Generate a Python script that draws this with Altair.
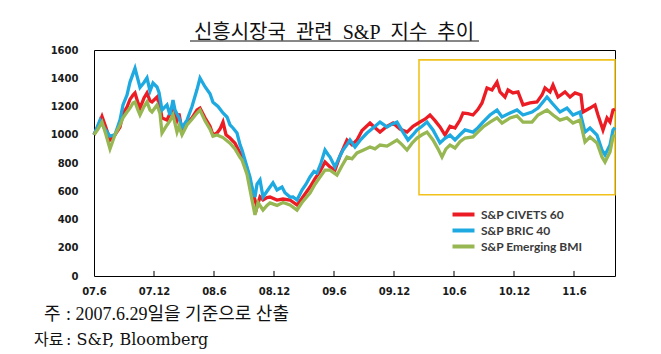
import altair as alt
import pandas as pd

# ---------------- data ----------------
series_names = ["S&P CIVETS 60", "S&P BRIC 40", "S&P Emerging BMI"]
series_colors = ["#EC1C24", "#1EA9E1", "#96B752"]

tick_months = [0, 6, 12, 18, 24, 30, 36, 42, 48]
tick_labels = ["07.6", "07.12", "08.6", "08.12", "09.6", "09.12", "10.6", "10.12", "11.6"]
inner_ticks = [6, 12, 18, 24, 30, 36, 42, 48]
x_max = 52.1  # months after 2007.6.29

civets = [(0, 1000), (0.4, 1060), (0.8, 1130), (1.2, 1050), (1.6, 963), (2.1, 1000), (2.6, 1055), (2.9, 1150),
          (3.3, 1196), (3.6, 1250), (3.9, 1281), (4.1, 1296), (4.4, 1225), (4.6, 1189), (5.0, 1260), (5.3, 1296),
          (5.6, 1240), (5.8, 1232), (6.3, 1267), (6.6, 1200), (6.8, 1119), (7.3, 1104), (7.6, 1150), (7.9, 1189),
          (8.3, 1104), (8.5, 1150), (8.8, 1034), (9.3, 1083), (9.8, 1120), (10.3, 1175), (10.6, 1189), (11.1, 1120),
          (11.6, 1060), (11.9, 998), (12.3, 1012), (12.6, 1040), (12.9, 1090), (13.2, 1000), (13.6, 977), (14.1, 940),
          (14.6, 871), (15.3, 760), (15.8, 609), (16.3, 488), (16.6, 560), (16.9, 538), (17.3, 555), (17.6, 559),
          (18.3, 538), (18.9, 545), (19.6, 538), (20.3, 503), (20.8, 550), (21.6, 630), (22.1, 690), (22.6, 740),
          (23.1, 807), (23.6, 772), (24.1, 750), (24.6, 850), (25.3, 963), (25.8, 930), (26.3, 963), (26.8, 1030),
          (27.6, 1083), (28.1, 1050), (28.6, 1019), (29.3, 1060), (29.9, 1083), (30.6, 1040), (31.3, 1019),
          (31.9, 1060), (32.6, 1090), (33.1, 1110), (33.6, 1140), (34.1, 1100), (34.6, 1055), (35.1, 998),
          (35.6, 1060), (36.1, 1048), (36.6, 1104), (36.9, 1154), (37.4, 1150), (37.9, 1140), (38.4, 1180),
          (38.8, 1225), (39.3, 1331), (39.8, 1317), (40.3, 1373), (40.6, 1303), (41.1, 1267), (41.4, 1317),
          (41.9, 1296), (42.4, 1303), (42.9, 1211), (43.6, 1225), (44.3, 1232), (44.8, 1281), (45.1, 1331),
          (45.6, 1303), (45.9, 1352), (46.4, 1267), (47.1, 1303), (47.6, 1267), (48.1, 1296), (48.7, 1281),
          (48.9, 1161), (49.6, 1189), (50.1, 1211), (50.4, 1140), (50.9, 1034), (51.3, 1119), (51.6, 1090),
          (51.9, 1175), (52.1, 1180)]

bric = [(0, 1000), (0.6, 1104), (1.0, 1050), (1.6, 990), (2.1, 1000), (2.6, 1104), (2.9, 1211), (3.3, 1281),
        (3.6, 1373), (4.1, 1470), (4.6, 1335), (5.0, 1370), (5.3, 1402), (5.6, 1310), (5.9, 1366), (6.3, 1338),
        (6.5, 1300), (6.8, 1175), (7.3, 1211), (7.6, 1140), (7.9, 1246), (8.1, 1175), (8.5, 1120), (8.8, 1050),
        (9.3, 1104), (9.8, 1200), (10.3, 1320), (10.6, 1402), (11.1, 1340), (11.6, 1290), (11.9, 1230),
        (12.4, 1200), (12.9, 1154), (13.3, 1126), (13.6, 1070), (13.9, 1048), (14.3, 1012), (14.6, 930),
        (14.8, 892), (15.3, 772), (15.6, 700), (15.8, 630), (16.1, 559), (16.3, 650), (16.6, 680), (16.9, 559),
        (17.3, 600), (17.6, 630), (17.9, 660), (18.3, 609), (18.8, 630), (19.1, 590), (19.6, 559), (19.9, 560),
        (20.3, 538), (20.8, 609), (21.2, 650), (21.6, 701), (22.0, 740), (22.3, 729), (22.7, 800), (23.1, 892),
        (23.4, 860), (23.6, 842), (24.1, 772), (24.6, 850), (24.9, 892), (25.3, 930), (25.6, 963), (26.1, 913),
        (26.6, 960), (27.3, 1012), (27.9, 1048), (28.6, 1090), (29.0, 1070), (29.3, 1055), (29.8, 1075),
        (30.3, 1090), (30.9, 1019), (31.4, 963), (31.9, 1000), (32.3, 1034), (32.8, 1060), (33.3, 1090),
        (33.9, 1034), (34.6, 942), (35.1, 975), (35.6, 998), (36.1, 963), (36.6, 1000), (37.1, 1034),
        (37.9, 1019), (38.4, 1050), (38.9, 1090), (39.6, 1140), (40.3, 1175), (40.8, 1126), (41.6, 1154),
        (42.3, 1175), (42.9, 1140), (43.8, 1161), (44.4, 1189), (44.9, 1232), (45.3, 1267), (45.8, 1225),
        (46.6, 1161), (47.3, 1189), (47.9, 1140), (48.6, 1161), (49.1, 1019), (49.6, 1048), (50.3, 998),
        (50.8, 892), (51.1, 857), (51.6, 927), (51.9, 1034), (52.1, 1050)]

emerging = [(0, 1000), (0.4, 1040), (0.8, 1090), (1.2, 1000), (1.6, 900), (2.1, 1000), (2.6, 1069), (2.9, 1120),
            (3.3, 1161), (3.6, 1189), (3.9, 1225), (4.1, 1232), (4.4, 1175), (4.6, 1140), (5.0, 1200), (5.3, 1232),
            (5.6, 1175), (5.8, 1161), (6.3, 1211), (6.6, 1150), (6.8, 1012), (7.3, 1069), (7.6, 1100), (7.9, 1140),
            (8.3, 1019), (8.5, 1060), (8.8, 1000), (9.3, 1069), (9.8, 1110), (10.3, 1154), (10.6, 1175),
            (11.1, 1100), (11.6, 1040), (11.9, 990), (12.3, 998), (12.9, 980), (13.6, 940), (14.1, 900),
            (14.6, 840), (14.8, 821), (15.3, 720), (15.8, 538), (16.1, 432), (16.4, 520), (16.9, 467), (17.3, 500),
            (17.6, 517), (18.3, 500), (18.9, 520), (19.6, 503), (20.3, 467), (20.8, 520), (21.6, 588), (22.1, 650),
            (22.6, 700), (23.1, 750), (23.6, 750), (24.3, 715), (24.8, 780), (25.3, 842), (25.8, 830), (26.3, 871),
            (26.9, 890), (27.6, 913), (28.1, 900), (28.6, 927), (29.3, 920), (30.3, 963), (30.8, 930), (31.3, 892),
            (31.8, 940), (32.3, 977), (32.8, 1000), (33.3, 1019), (33.9, 963), (34.4, 900), (34.8, 842),
            (35.2, 900), (35.6, 927), (36.1, 906), (36.6, 950), (37.1, 977), (37.9, 984), (38.4, 1020),
            (38.9, 1055), (39.6, 1090), (40.3, 1119), (40.8, 1083), (41.6, 1119), (42.3, 1133), (42.9, 1090),
            (43.8, 1090), (44.4, 1140), (45.3, 1175), (45.9, 1140), (46.6, 1104), (47.3, 1119), (47.9, 1083),
            (48.6, 1104), (49.1, 949), (49.6, 984), (50.3, 942), (50.8, 842), (51.1, 807), (51.6, 878),
            (51.9, 984), (52.1, 1000)]

# highlighted region (yellow box)
box_x = [32.5, x_max]
box_y = [575, 1530]

title_text = "신흥시장국\u2002관련\u2002S&P\u2002지수\u2002추이"
note_heads = ["주", "자료"]
note_bodies = [": 2007.6.29일을 기준으로 산출", ": S&P, Bloomberg"]

# ---------------- build table ----------------
rows = []
for name, pts in zip(series_names, [civets, bric, emerging]):
    for m, v in pts:
        rows.append({"series": name, "month": m, "value": v})
df = pd.DataFrame(rows)

W, H = 521, 226
SERIF = "Liberation Serif, Noto Sans CJK KR"
SERIF2 = "DejaVu Serif, Noto Sans CJK KR"

label_expr = "[" + ",".join("'%s'" % t for t in tick_labels) + "][round(datum.value/6)]"

x_scale = alt.Scale(domain=[0, x_max], nice=False, zero=False)
y_scale = alt.Scale(domain=[0, 1600], nice=False)
x_axis = alt.Axis(values=tick_months, labelExpr=label_expr, ticks=False, domain=False, grid=False,
                  labelPadding=10, labelFont="DejaVu Sans", labelFontWeight="bold",
                  labelFontSize=10, labelColor="#1a1a1a", title=None, labelFlush=False)
y_axis = alt.Axis(values=list(range(0, 1601, 200)), format="d", ticks=False, domain=False, grid=False,
                  labelPadding=16, labelFont="DejaVu Sans", labelFontWeight="bold",
                  labelFontSize=10, labelColor="#1a1a1a", title=None)

color_enc = alt.Color("series:N",
                      scale=alt.Scale(domain=series_names, range=series_colors),
                      legend=alt.Legend(title=None, orient="none", legendX=362, legendY=157,
                                        symbolType="M-2,0H2", symbolStrokeWidth=4, symbolSize=121,
                                        symbolFillColor="transparent",
                                        labelFont="Lato", labelFontWeight="bold", labelFontSize=12,
                                        labelColor="#3a3a3a", labelOffset=10, rowPadding=-4.5, padding=0))

box_df = pd.DataFrame({"x0": [box_x[0]], "x1": [box_x[1]], "y0": [box_y[0]], "y1": [box_y[1]]})
box = alt.Chart(box_df).mark_rect(fillOpacity=0, stroke="#F1C21B", strokeWidth=1.6).encode(
    x=alt.X("x0:Q", scale=x_scale, axis=x_axis),
    x2="x1:Q",
    y=alt.Y("y0:Q", scale=y_scale, axis=y_axis),
    y2="y1:Q")

ticks_df = pd.DataFrame({"month": inner_ticks, "lo": 0, "hi": 36})
tick_layer = alt.Chart(ticks_df).mark_rule(color="#000", strokeWidth=1).encode(
    x=alt.X("month:Q", scale=x_scale, axis=x_axis),
    y=alt.Y("lo:Q", scale=y_scale, axis=y_axis),
    y2="hi:Q")

base = alt.Chart(df)
lines = [base.transform_filter(alt.datum.series == s).mark_line(strokeWidth=3.3).encode(
    x=alt.X("month:Q", scale=x_scale, axis=x_axis),
    y=alt.Y("value:Q", scale=y_scale, axis=y_axis),
    color=color_enc) for s in series_names]

title_layer = alt.Chart(pd.DataFrame({"t": [title_text]})).mark_text(
    font=SERIF, fontSize=20, align="center", baseline="alphabetic", color="#111").encode(
    text="t:N", x=alt.value(240), y=alt.value(-11))
underline = alt.Chart(pd.DataFrame({"t": [0]})).mark_rule(color="#111", strokeWidth=1).encode(
    x=alt.value(96), x2=alt.value(385), y=alt.value(-9))

note_layers = []
for i, (hx, by, fnt, fs) in enumerate([(-50, 270, SERIF, 18), (-60, 295, SERIF2, 16)]):
    note_layers.append(alt.Chart(pd.DataFrame({"t": [note_heads[i]]})).mark_text(
        font=fnt, fontSize=fs, align="left", baseline="alphabetic", color="#111").encode(
        text="t:N", x=alt.value(hx), y=alt.value(by)))
    note_layers.append(alt.Chart(pd.DataFrame({"t": [note_bodies[i]]})).mark_text(
        font=fnt, fontSize=fs, align="left", baseline="alphabetic", color="#111").encode(
        text="t:N", x=alt.value(-28), y=alt.value(by)))

chart = alt.layer(box, *lines, tick_layer, title_layer, underline, *note_layers).properties(
    width=W, height=H,
    autosize=alt.AutoSizeParams(type="none"),
    padding={"left": 94, "top": 50, "right": 46, "bottom": 78},
    background="white",
).configure_view(stroke="#000", strokeWidth=1)

chart.save("out.html", embed_options={"renderer": "svg", "actions": False})
